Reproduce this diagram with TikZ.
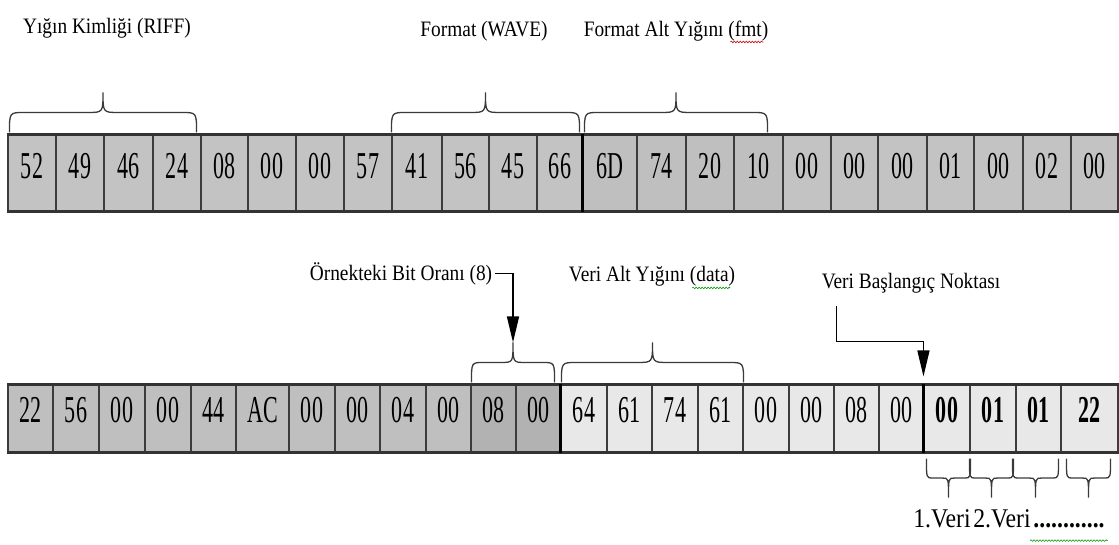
\documentclass[tikz,border=0pt]{standalone}
\usepackage{fontspec}
\setmainfont{Liberation Serif}
\newfontfamily\cellfont{Liberation Serif}[FakeStretch=0.58]
\newfontfamily\notefont{Liberation Serif}[FakeStretch=0.88]
\usetikzlibrary{arrows.meta,calc,decorations.pathmorphing}

\definecolor{topgray}{HTML}{C3C3C3}
\definecolor{fmtgray}{HTML}{BFBFBF}
\definecolor{hdrgray}{HTML}{BFBFBF}
\definecolor{bitgray}{HTML}{B2B2B2}
\definecolor{datgray}{HTML}{E8E8E8}
\definecolor{cellline}{HTML}{3C3C3C}
\definecolor{framecol}{HTML}{333333}
\definecolor{bracecol}{HTML}{3A3A3A}

% curly cap over (or under) a run of cells: start, end, height, curl size
\newcommand{\capbrace}[4]{%
  \draw[brc] let \p1=(#1), \p2=(#2), \n1={0.5*(\x1+\x2)}, \n2={\y1+0.5*(#3)}, \n3={\y1+(#3)} in
    (\p1) .. controls (\x1,\n2) .. (\x1+#4,\n2) -- (\n1-#4,\n2)
    .. controls (\n1,\n2) .. (\n1,\n3)
    .. controls (\n1,\n2) .. (\n1+#4,\n2) -- (\x2-#4,\n2)
    .. controls (\x2,\n2) .. (\p2);}

\begin{document}
\begin{tikzpicture}[x=1pt,y=1pt,
  cell/.style={draw=cellline,line width=1.1pt,inner sep=0pt,font=\cellfont\fontsize{38}{38}\selectfont},
  topcell/.style={cell,minimum height=76pt,text height=26pt,text depth=16pt,fill=topgray},
  fmtcell/.style={topcell,fill=fmtgray},
  botcell/.style={cell,minimum height=67pt,text height=26pt,text depth=19pt},
  hdrcell/.style={botcell,fill=hdrgray},
  bitcell/.style={botcell,fill=bitgray},
  datcell/.style={botcell,fill=datgray},
  boldcell/.style={datcell,font=\cellfont\bfseries\fontsize{38}{38}\selectfont},
  note/.style={font=\notefont\fontsize{22}{26}\selectfont,anchor=base,inner sep=3pt},
  bignote/.style={note,font=\notefont\fontsize{27}{30}\selectfont},
  brc/.style={draw=bracecol,line width=1.3pt},
  arr/.style={draw=black,line width=1.4pt,-{Triangle[length=26pt,width=12pt]}},
  sep/.style={draw=black,line width=3pt},
  frame/.style={draw=framecol,line width=2.2pt},
  squig/.style={decorate,decoration={snake,segment length=3pt,amplitude=0.8pt},line width=0.6pt}
]
\useasboundingbox (0,0) rectangle (1119,-544);

% first row of bytes
\foreach \t/\xa/\xb/\c [count=\i] in {52/8/56/topcell, 49/56/104/topcell, 46/104/153/topcell,
  24/153/201/topcell, 08/201/248/topcell, 00/248/296/topcell, 00/296/344/topcell,
  57/344/392/topcell, 41/392/442/topcell, 56/442/489/topcell, 45/489/537/topcell,
  66/537/583/topcell, 6D/583/637/fmtcell, 74/637/686/fmtcell, 20/686/734/fmtcell,
  10/734/783/fmtcell, 00/783/831/topcell, 00/831/878/topcell, 00/878/927/topcell,
  01/927/974/topcell, 00/974/1023/topcell, 02/1023/1071/topcell, 00/1071/1118/topcell}
  \node[\c,minimum width={(\xb-\xa)*1pt}] (t\i) at ({(\xa+\xb)/2},-173) {\t};

% second row of bytes
\foreach \t/\xa/\xb/\c [count=\i] in {22/8/53/hdrcell, 56/53/99/hdrcell, 00/99/145/hdrcell,
  00/145/191/hdrcell, 44/191/236/hdrcell, AC/236/289/hdrcell, 00/289/335/hdrcell,
  00/335/380/hdrcell, 04/380/426/hdrcell, 00/426/471/hdrcell, 08/471/516/bitcell,
  00/516/561/bitcell, 64/561/607/datcell, 61/607/652/datcell, 74/652/698/datcell,
  61/698/743/datcell, 00/743/789/datcell, 00/789/834/datcell, 08/834/879/datcell,
  00/879/924/datcell, 00/924/970/boldcell, 01/970/1016/boldcell, 01/1016/1061/boldcell,
  22/1061/1118/boldcell}
  \node[\c,minimum width={(\xb-\xa)*1pt}] (b\i) at ({(\xa+\xb)/2},-418.5) {\t};

\draw[frame] (t1.north west) -- (t23.north east);
\draw[frame] (t1.south west) -- (t23.south east);
\draw[frame] (b1.north west) -- (b24.north east);
\draw[frame] (b1.south west) -- (b24.south east);
\draw[sep] (t13.north west) -- (t13.south west);
\draw[sep] (b13.north west) -- (b13.south west);
\draw[sep] (b21.north west) -- (b21.south west);

% labels
\node[note] (riffl) at (107,-33) {Yığın Kimliği (RIFF)};
\node[note] (wavel) at (484,-36) {Format (WAVE)};
\node[note] (fmtl) at (676,-36) {Format Alt Yığını (fmt)};
\node[note] (bitl) at (401,-280) {Örnekteki Bit Oranı (8)};
\node[note] (datal) at (652,-281) {Veri Alt Yığını (data)};
\node[note] (startl) at (911,-288) {Veri Başlangıç Noktası};
\node[bignote] (v1l) at (942,-527) {1.Veri};
\node[bignote] (v2l) at (1002,-527) {2.Veri};
\node[bignote] (dotsl) at (1069,-527) {\textbf{............}};

% braces over the first row
\capbrace{[shift={(2,2)}]t1.north west}{[shift={(-5,2)}]t4.north east}{40}{15}
\capbrace{[shift={(0,2)}]t9.north west}{[shift={(-4,2)}]t12.north east}{40}{15}
\capbrace{[shift={(2,2)}]t13.north west}{[shift={(-16,2)}]t16.north east}{40}{15}

% braces over the second row
\coordinate (bitL) at ([shift={(1,2)}]b11.north west);
\coordinate (bitR) at ([shift={(-7,2)}]b12.north east);
\capbrace{bitL}{bitR}{40}{12}
\coordinate (bittip) at ($(bitL)!0.5!(bitR)+(0,40)$);
\capbrace{[shift={(1,2)}]b13.north west}{[shift={(0,2)}]b16.north east}{40}{15}

% braces under the samples
\capbrace{[shift={(3,-6)}]b21.south west}{[shift={(0,-6)}]b21.south east}{-39}{6}
\capbrace{[shift={(0,-6)}]b22.south west}{[shift={(-3,-6)}]b22.south east}{-39}{6}
\capbrace{[shift={(-3,-6)}]b23.south west}{[shift={(-3,-6)}]b23.south east}{-39}{6}
\capbrace{[shift={(6,-6)}]b24.south west}{[shift={(-8,-6)}]b24.south east}{-39}{6}

% pointers
\draw[arr] (bitl.east) -| (bittip);
\draw[arr] ([shift={(18,-10)}]startl.south west) |- ([yshift=43pt]b21.north west)
  -- ([yshift=8pt]b21.north west);

% spelling marks
\draw[squig,red!80!black] ([shift={(-41,2)}]fmtl.south east) -- ([shift={(-8,2)}]fmtl.south east);
\draw[squig,green!60!black] ([shift={(-46,1)}]datal.south east) -- ([shift={(-8,1)}]datal.south east);
\draw[squig,green!60!black] ([shift={(0,-10)}]dotsl.south west) -- ([shift={(0,-10)}]dotsl.south east);
\end{tikzpicture}
\end{document}
